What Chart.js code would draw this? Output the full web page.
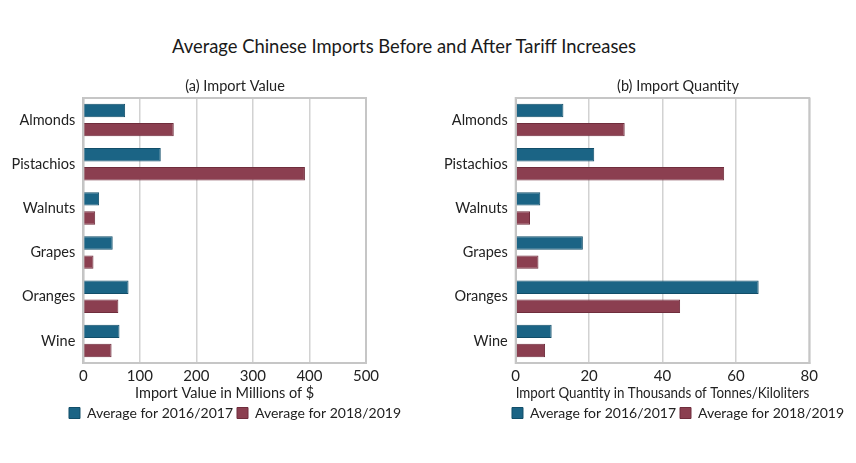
<!DOCTYPE html>
<html>
<head>
<meta charset="utf-8">
<script src="https://cdn.jsdelivr.net/npm/chart.js@4.4.1/dist/chart.umd.min.js"></script>
<style>
  body { margin: 0; background: #fff; }
  #page { position: relative; width: 856px; height: 463px; overflow: hidden; font-family: Lato, sans-serif; }
  #main-title { position: absolute; left: 0; top: 35px; width: 808px; text-align: center; font-size: 18.4px; line-height: 22px; color: #1a1a1a; }
  .box { position: absolute; top: 0; height: 463px; }
</style>
</head>
<body>
<div id="page">
  <div id="main-title">Average Chinese Imports Before and After Tariff Increases</div>
  <div class="box" style="left:0;width:470px"><canvas id="value-chart" width="470" height="463"></canvas></div>
  <div class="box" style="left:430px;width:496px"><canvas id="qty-chart" width="496" height="463"></canvas></div>
</div>
<script>
var categories = ["Almonds", "Pistachios", "Walnuts", "Grapes", "Oranges", "Wine"];
var seriesNames = ["Average for 2016/2017", "Average for 2018/2019"];
var valueBefore = [74, 137, 28, 52, 80, 64];
var valueAfter = [160, 392, 21, 18, 62, 50];
var qtyBefore = [13, 21.4, 6.7, 18.3, 66.2, 9.8];
var qtyAfter = [29.7, 56.8, 3.9, 6.2, 44.8, 8];
var valueTicks = [0, 100, 200, 300, 400, 500];
var qtyTicks = [0, 20, 40, 60, 80];

var BLUE = "#1b6485";
var RED = "#8b3f50";

// box round the plot area, like the original
var framePlugin = {
    id: 'frame',
    afterDraw: function (chart) {
        var a = chart.chartArea, ctx = chart.ctx;
        ctx.save();
        ctx.strokeStyle = "#c6c6c6";
        ctx.lineWidth = 2;
        ctx.strokeRect(a.left, a.top, a.right - a.left, a.bottom - a.top);
        ctx.restore();
    }
};

function getChartJs(o) {
    var font = {family: "Lato", size: 14.5};
    return {
        type: 'bar',
        data: {
            labels: categories,
            datasets: [
                {label: seriesNames[0], data: o.before, backgroundColor: BLUE, borderColor: "#124e69", borderWidth: 1},
                {label: seriesNames[1], data: o.after, backgroundColor: RED, borderColor: "#6f2d3c", borderWidth: 1}
            ]
        },
        options: {
            indexAxis: 'y',
            responsive: false,
            animation: false,
            categoryPercentage: 0.864,
            barPercentage: 0.7,
            layout: {padding: {left: 0, right: 0, top: 77.6, bottom: 33}},
            scales: {
                x: {
                    min: 0,
                    max: o.ticks[o.ticks.length - 1],
                    afterBuildTicks: function (s) { s.ticks = o.ticks.map(function (v) { return {value: v}; }); },
                    grid: {color: "#d2d2d2", lineWidth: 1.5, drawTicks: false},
                    border: {display: true, color: "#bdbdbd", width: 2},
                    ticks: {color: "#222", font: {family: "Lato", size: 15}, padding: 4},
                    title: {display: true, text: o.xTitle, color: "#222", font: font, padding: {top: 1, bottom: 0}},
                    afterFit: function (s) { s.height = 39; }
                },
                y: {
                    grid: {display: false, drawTicks: false},
                    border: {display: true, color: "#bdbdbd", width: 2},
                    ticks: {color: "#222", font: font, padding: 8},
                    afterFit: function (s) { s.width = o.yWidth; }
                },
                spacer: {
                    type: 'linear',
                    position: 'right',
                    grid: {display: false, drawTicks: false},
                    border: {display: false},
                    ticks: {display: false},
                    afterFit: function (s) { s.width = o.rightWidth; }
                }
            },
            plugins: {
                title: {display: true, text: o.title, color: "#222", font: {family: "Lato", size: 14.5, weight: 'normal'}, padding: {top: 0, bottom: 3}},
                legend: {
                    position: 'bottom',
                    labels: {boxWidth: 11, boxHeight: 11, padding: 4, color: "#222", font: {family: "Lato", size: 14}}
                },
                tooltip: {enabled: false}
            }
        },
        plugins: [framePlugin]
    };
}

new Chart(document.getElementById("value-chart").getContext("2d"), getChartJs({
    before: valueBefore, after: valueAfter, ticks: valueTicks,
    title: "(a) Import Value", xTitle: "Import Value in Millions of $",
    yWidth: 83.3, rightWidth: 104
}));
new Chart(document.getElementById("qty-chart").getContext("2d"), getChartJs({
    before: qtyBefore, after: qtyAfter, ticks: qtyTicks,
    title: "(b) Import Quantity", xTitle: "Import Quantity in Thousands of Tonnes/Kiloliters",
    yWidth: 85.7, rightWidth: 116.7
}));
</script>
</body>
</html>
